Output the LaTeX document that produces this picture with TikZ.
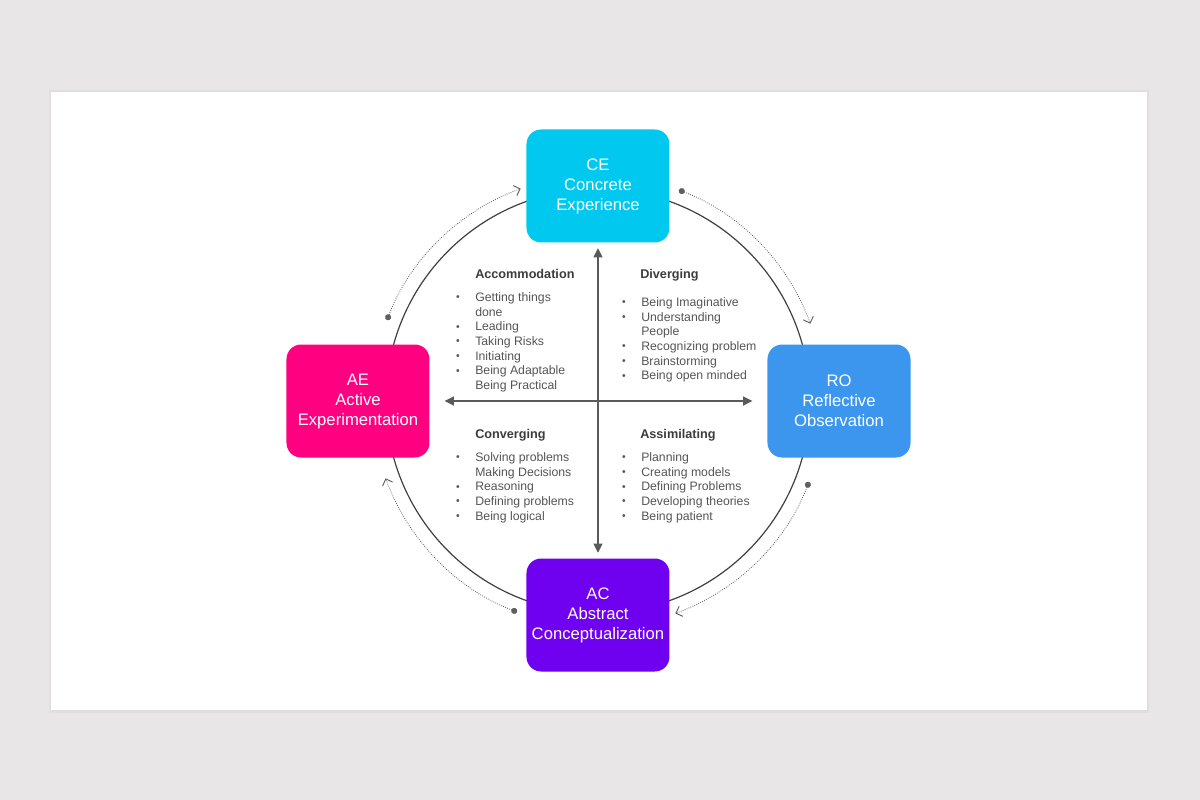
\documentclass[tikz,border=0pt]{standalone}
\usepackage{fontspec}
\setmainfont{Liberation Sans}
\usetikzlibrary{arrows.meta}
\definecolor{pagebg}{RGB}{232,230,231}
\definecolor{cecol}{RGB}{0,200,238}
\definecolor{rocol}{RGB}{60,150,238}
\definecolor{aecol}{RGB}{255,0,128}
\definecolor{accol}{RGB}{112,0,240}
\definecolor{linegray}{RGB}{64,64,64}
\definecolor{axisgray}{RGB}{90,90,90}
\definecolor{dotgray}{RGB}{95,95,95}
\definecolor{textgray}{RGB}{85,85,85}
\definecolor{headgray}{RGB}{60,60,60}
\newcommand{\bul}{\makebox[13.5pt][l]{\hspace{-0.8pt}\raisebox{0.6pt}{\scalebox{0.85}{\textbullet}}}}
\newcommand{\nob}{\makebox[13.5pt][l]{}}
\tikzset{
  stage/.style={rounded corners=11pt, minimum width=107.25pt, minimum height=84.75pt,
    text=white, align=center, inner sep=0pt, font=\fontsize{12.5}{15}\selectfont},
  quadhead/.style={anchor=base west, inner sep=0pt, text=headgray,
    font=\bfseries\fontsize{9.5}{11}\selectfont},
  quadlist/.style={anchor=north west, inner sep=0pt, align=left, text=textgray,
    font=\fontsize{9.2}{11}\selectfont},
  crossarrow/.style={axisgray, line width=1.5pt,
    {Triangle[length=7pt,width=6.5pt]}-{Triangle[length=7pt,width=6.5pt]}},
  flow/.style={dotgray, line width=0.6pt, densely dotted,
    {Circle[length=4.5pt]}-{Straight Barb[length=4pt,width=8pt,line width=0.7pt]}},
}
\begin{document}
\begin{tikzpicture}[x=0.75pt, y=0.75pt]
  \useasboundingbox (-598,-399) rectangle (602,401);
  \fill[pagebg] (-598,-399) rectangle (602,401);
  % card
  \fill[black, opacity=0.03] (-549,-312) rectangle (551,311);
  \fill[white] (-547,-309) rectangle (549,309);

  % cycle
  \draw[linegray, line width=0.9pt] (0,0) circle[radius=212];

  \node[stage, fill=cecol] (ce) at (0,215) {CE\\Concrete\\Experience};
  \node[stage, fill=rocol] (ro) at (241,0) {RO\\Reflective\\Observation};
  \node[stage, fill=accol] (ac) at (0,-214) {AC\\Abstract\\Conceptualization};
  \node[stage, fill=aecol] (ae) at (-240,0) {AE\\Active\\Experimentation};

  % axes
  \draw[crossarrow, shorten <=4pt, shorten >=4pt] (ce) -- (ac);
  \draw[crossarrow, shorten <=11pt, shorten >=11pt] (ae) -- (ro);

  % outer flow arcs
  \foreach \a/\n in {69/ce, -21/ro, -111/ac, 159/ae}
    \coordinate (\n-out) at (\a:226);
  \draw[flow] (ce-out) arc[start angle=69, end angle=20, radius=226];
  \draw[flow] (ro-out) arc[start angle=-21, end angle=-70, radius=226];
  \draw[flow] (ac-out) arc[start angle=-111, end angle=-160, radius=226];
  \draw[flow] (ae-out) arc[start angle=159, end angle=110, radius=226];

  % quadrants
  \node[quadhead] (accom) at (-123,122.5) {Accommodation};
  \node[quadlist] (accomlist) at (-141,108.5) {\bul Getting things\\ \nob done\\
    \bul Leading\\ \bul Taking Risks\\ \bul Initiating\\
    \bul Being Adaptable\\ \nob Being Practical};

  \node[quadhead] (diverg) at (42,122.5) {Diverging};
  \node[quadlist] (diverglist) at (25,103.5) {\bul Being Imaginative\\
    \bul Understanding\\ \nob People\\ \bul Recognizing problem\\
    \bul Brainstorming\\ \bul Being open minded};

  \node[quadhead] (converg) at (-123,-37.5) {Converging};
  \node[quadlist] (converglist) at (-141,-51.5) {\bul Solving problems\\
    \nob Making Decisions\\ \bul Reasoning\\ \bul Defining problems\\
    \bul Being logical};

  \node[quadhead] (assim) at (42,-37.5) {Assimilating};
  \node[quadlist] (assimlist) at (25,-51.5) {\bul Planning\\
    \bul Creating models\\ \bul Defining Problems\\
    \bul Developing theories\\ \bul Being patient};
\end{tikzpicture}
\end{document}
